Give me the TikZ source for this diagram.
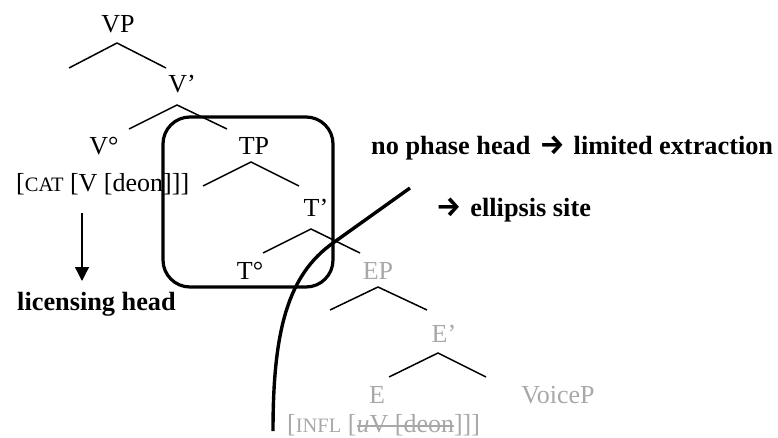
\documentclass[tikz,border=0pt]{standalone}
\usepackage{fontspec}
\setmainfont{Liberation Serif}
\newfontfamily\arrowfont{Fira Sans}
\usetikzlibrary{arrows.meta}
\definecolor{lightgr}{RGB}{168,168,168}
\newcommand{\fsc}[1]{{\fontsize{20.5}{24}\selectfont #1}}
\newcommand{\barr}{{\arrowfont\bfseries\fontsize{28}{30}\selectfont →}}
\newsavebox{\strkbox}
\newcommand{\strk}[1]{\sbox{\strkbox}{#1}\rlap{\usebox{\strkbox}}\raisebox{5.5pt}{\rule{\wd\strkbox}{1.8pt}}}
\begin{document}
\begin{tikzpicture}[x=1pt,y=-1pt,
  lbl/.style={inner sep=0pt,anchor=base,font=\fontsize{26}{30}\selectfont},
  glbl/.style={lbl,text=lightgr},
  bold/.style={inner sep=0pt,anchor=base west,font=\fontsize{26.3}{30}\selectfont\bfseries},
  branch/.style={line width=1.5pt},
  thick line/.style={line width=3.4pt},
]
\useasboundingbox (0,0) rectangle (778,438);
% labels
\node[lbl] (VP) at (118,33) {VP};
\node[lbl] (Vbar) at (182,93) {V’};
\node[lbl] (Vo) at (104,155) {V°};
\node[lbl] (TP) at (254,155) {TP};
\node[lbl,anchor=base west] (cat) at (16,192) {[\fsc{CAT} [V [deon]]]};
\node[lbl] (Tbar) at (316,217) {T’};
\node[lbl] (To) at (250,279) {T°};
\node[glbl] (EP) at (378,279) {EP};
\node[glbl] (Ebar) at (444,342) {E’};
\node[glbl] (E) at (377,403) {E};
\node[glbl] (VoiceP) at (558,403) {VoiceP};
\node[glbl,anchor=base west] (infl) at (287,432) {[\fsc{INFL} [\strk{\textit{u}V [deon}]]]};
\node[bold] (phase) at (371,155) {no phase head\hspace{9pt}\barr\hspace{9pt}limited extraction};
\node[bold] (ell) at (436,217) {\barr\hspace{9pt}ellipsis site};
\node[bold] (lic) at (17,310) {licensing head};
% branches
\foreach \n/\ax/\ay/\lx/\rx/\by in {vp/117/43/69/166/68, vb/177/105/129/227/129, tp/251/162/203/299/186, tb/311/229/263/360/253, ep/378/287/330/427/310, eb/438/353/389/486/377}{
  \coordinate (\n-a) at (\ax,\ay);
  \coordinate (\n-l) at (\lx,\by);
  \coordinate (\n-r) at (\rx,\by);
  \draw[branch] (\n-l) -- (\n-a) -- (\n-r);
}
% licensing arrow
\coordinate (lic-top) at (82,213);
\coordinate (lic-tip) at (82,281);
\draw[line width=1.3pt,-{Triangle[width=14pt,length=14pt]}] (lic-top) -- (lic-tip);
% box
\draw[line width=3.2pt,rounded corners=27pt] (163,117) rectangle (333,287);
% curve
\coordinate (c-bot) at (273,431);
\coordinate (c-mid) at (333,243);
\coordinate (c-top) at (410,188);
\draw[thick line] (c-bot) .. controls (273,330) and (288,275) .. (c-mid) -- (c-top);
\end{tikzpicture}
\end{document}
